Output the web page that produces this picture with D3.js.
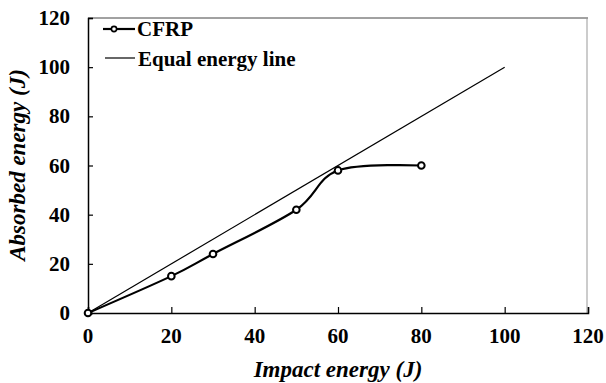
<!DOCTYPE html>
<html>
<head>
<meta charset="utf-8">
<script src="https://cdn.jsdelivr.net/npm/d3@7"></script>
<style>
    body { margin: 0; background: #fff; }
    text { font-family: "Liberation Serif", "Times New Roman", serif; font-weight: bold; }
</style>
</head>
<body>
<div id="chart"></div>
<script>
// data
var impact = [0, 20, 30, 50, 60, 80];
var absorbed = [0, 15, 24, 42, 58, 60];
var equalLine = [0, 100];
var xTicks = [0, 20, 40, 60, 80, 100, 120];
var yTicks = [0, 20, 40, 60, 80, 100, 120];

var width = 606, height = 383;
var plotLeft = 88, plotRight = 588, plotTop = 18, plotBottom = 313;

var svg = d3.select("#chart").append("svg")
    .attr("width", width)
    .attr("height", height);

var x = d3.scaleLinear().domain([0, 120]).range([plotLeft, plotRight]);
var y = d3.scaleLinear().domain([0, 120]).range([plotBottom, plotTop]);

// plot border (top + right)
svg.append("line").attr("x1", plotLeft).attr("x2", plotRight).attr("y1", plotTop).attr("y2", plotTop)
    .attr("stroke", "#444").attr("stroke-width", 1);
svg.append("line").attr("x1", plotRight - 1).attr("x2", plotRight - 1).attr("y1", plotTop).attr("y2", plotBottom)
    .attr("stroke", "#999").attr("stroke-width", 1);

// axes with inside ticks
var xAxis = svg.append("g").attr("transform", "translate(0," + plotBottom + ")")
    .call(d3.axisTop(x).tickValues(xTicks).tickSize(6).tickFormat(""));
var yAxis = svg.append("g").attr("transform", "translate(" + plotLeft + ",0)")
    .call(d3.axisRight(y).tickValues(yTicks).tickSize(5).tickFormat(""));
[xAxis, yAxis].forEach(function(a) {
    a.select(".domain").attr("stroke", "#000").attr("stroke-width", 1.5);
    a.selectAll(".tick line").attr("stroke", "#000").attr("stroke-width", 1.2);
});

// tick labels
svg.append("g").selectAll("text").data(xTicks).enter().append("text")
    .attr("x", function(d) { return x(d); })
    .attr("y", 343)
    .attr("text-anchor", "middle")
    .attr("font-size", 21)
    .text(function(d) { return d; });
svg.append("g").selectAll("text").data(yTicks).enter().append("text")
    .attr("x", 70)
    .attr("y", function(d) { return y(d) + 7; })
    .attr("text-anchor", "end")
    .attr("font-size", 21)
    .text(function(d) { return d; });

// axis titles
svg.append("text")
    .attr("x", 338).attr("y", 377)
    .attr("text-anchor", "middle")
    .attr("font-size", 23).attr("font-style", "italic")
    .text("Impact energy (J)");
svg.append("text")
    .attr("transform", "translate(25,165) rotate(-90)")
    .attr("text-anchor", "middle")
    .attr("font-size", 23).attr("font-style", "italic")
    .text("Absorbed energy (J)");

// equal energy line
svg.append("path")
    .datum(equalLine)
    .attr("fill", "none").attr("stroke", "#000").attr("stroke-width", 1.2)
    .attr("d", d3.line().x(function(d) { return x(d); }).y(function(d) { return y(d); }));

// CFRP smoothed curve
var pts = impact.map(function(d, i) { return [d, absorbed[i]]; });
svg.append("path")
    .datum(pts)
    .attr("fill", "none").attr("stroke", "#000").attr("stroke-width", 2.2)
    .attr("d", d3.line().curve(d3.curveCardinal.tension(0))
        .x(function(d) { return x(d[0]); }).y(function(d) { return y(d[1]); }));
svg.append("g").selectAll("circle").data(pts).enter().append("circle")
    .attr("cx", function(d) { return x(d[0]); })
    .attr("cy", function(d) { return y(d[1]); })
    .attr("r", 3.3)
    .attr("fill", "#fff").attr("stroke", "#000").attr("stroke-width", 2);

// legend
var lg = svg.append("g");
lg.append("line").attr("x1", 103).attr("x2", 135).attr("y1", 29).attr("y2", 29)
    .attr("stroke", "#000").attr("stroke-width", 2.2);
lg.append("circle").attr("cx", 114).attr("cy", 29).attr("r", 2.6)
    .attr("fill", "#fff").attr("stroke", "#000").attr("stroke-width", 1.6);
lg.append("text").attr("x", 137).attr("y", 36).attr("font-size", 21).text("CFRP");
lg.append("line").attr("x1", 105).attr("x2", 135).attr("y1", 58).attr("y2", 58)
    .attr("stroke", "#000").attr("stroke-width", 1.2);
lg.append("text").attr("x", 138).attr("y", 66).attr("font-size", 21).text("Equal energy line");
</script>
</body>
</html>
